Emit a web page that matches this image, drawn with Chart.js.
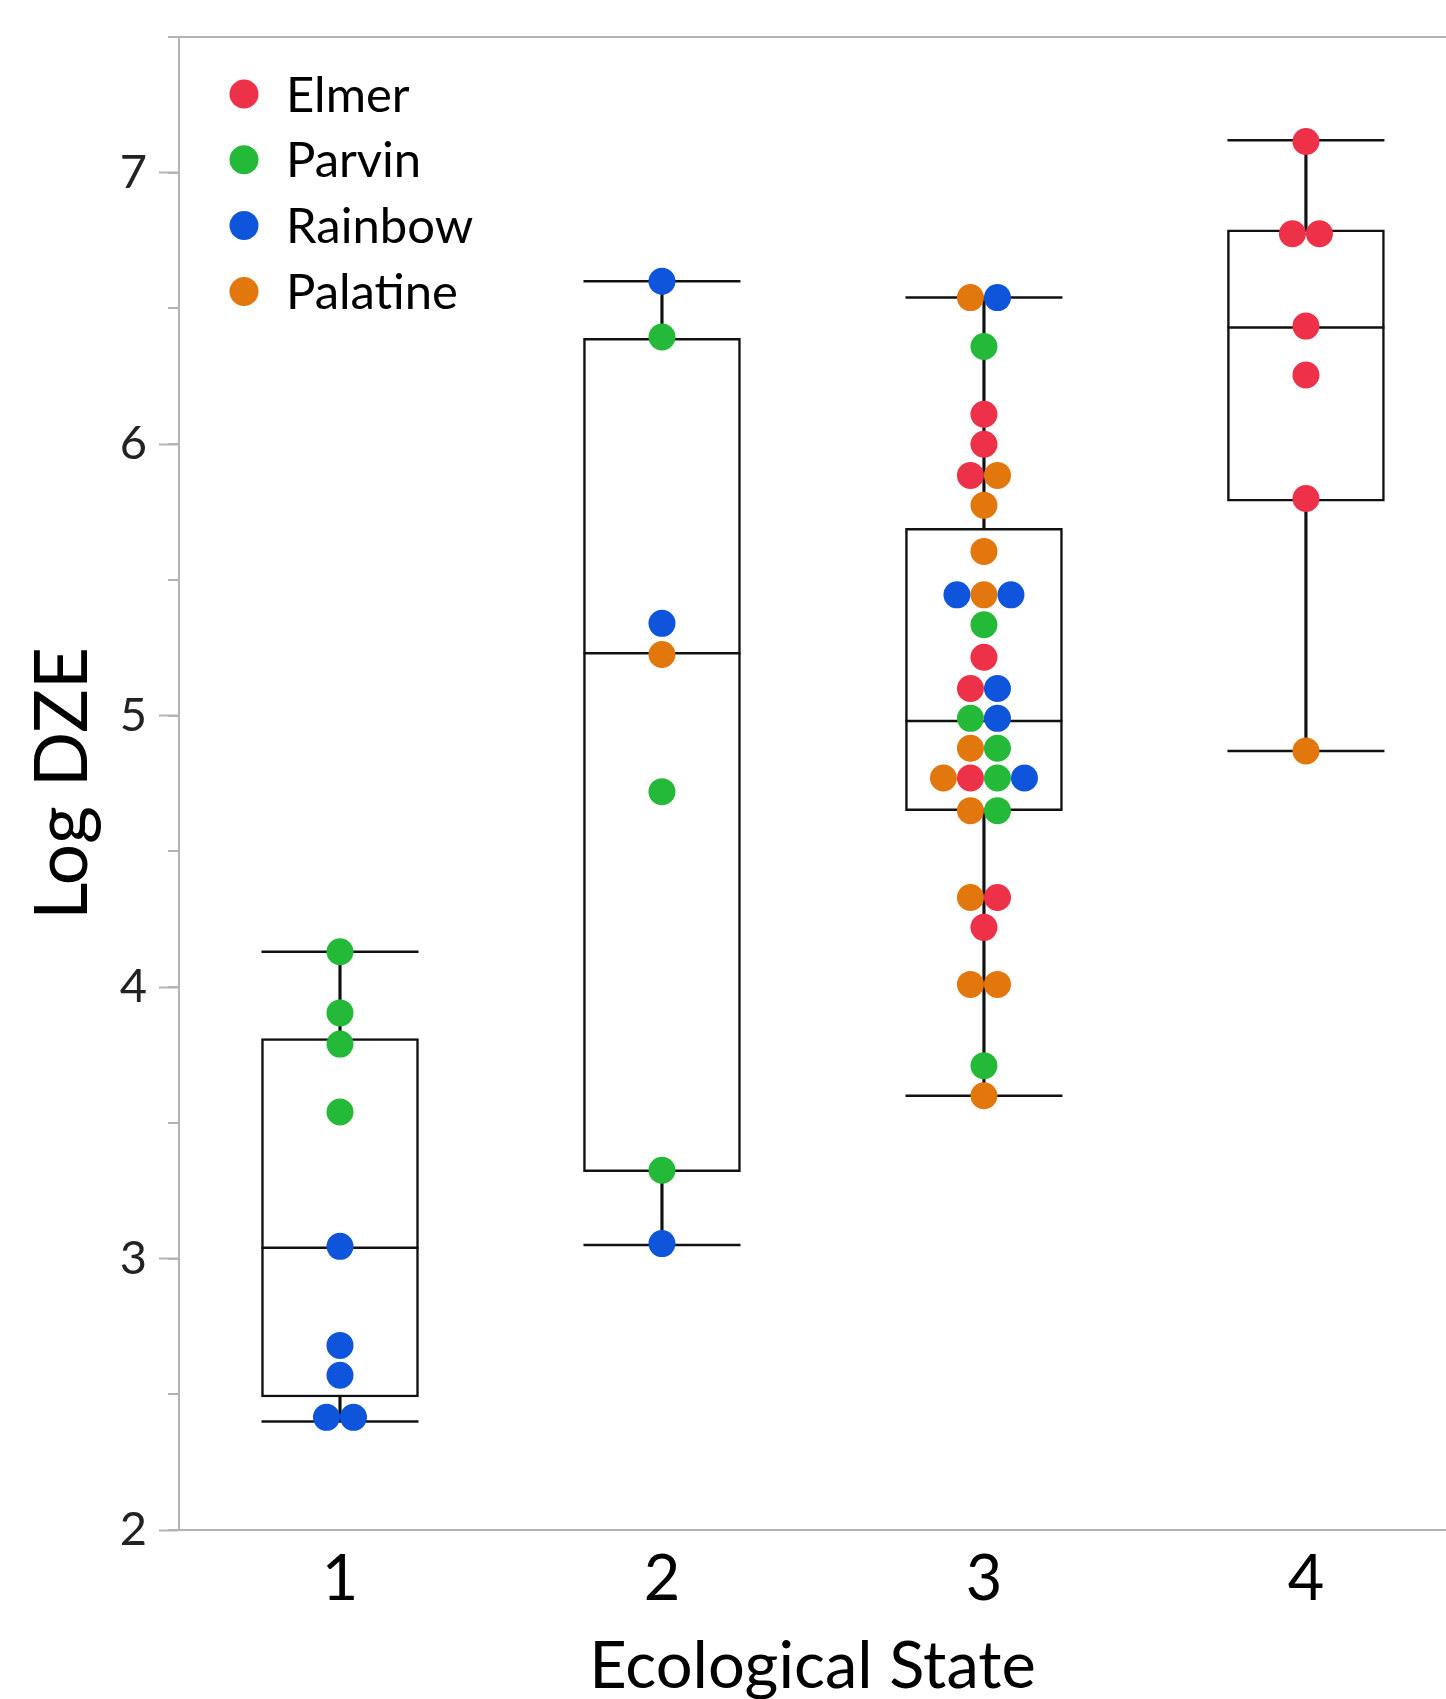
<!DOCTYPE html>
<html>
<head>
<meta charset="utf-8">
<script src="https://cdn.jsdelivr.net/npm/chart.js@4.4.1/dist/chart.umd.min.js"></script>
<style>
html,body{margin:0;padding:0;background:#fff;overflow:hidden}
#wrap{width:1446px;height:1699px;position:relative}
</style>
</head>
<body>
<div id="wrap"><canvas id="c"></canvas></div>
<script>
// ---------- data ----------
const states = [1, 2, 3, 4];
const stateLabels = ['1', '2', '3', '4'];
const sites = ['Elmer', 'Parvin', 'Rainbow', 'Palatine'];
const siteColors = ['#EC3148', '#25B93A', '#0F55DB', '#E2770E'];

const whiskerLow  = [2.40, 3.05, 3.60, 4.87];
const boxQ1       = [2.49, 3.32, 4.65, 5.79];
const boxMedian   = [3.04, 5.23, 4.98, 6.43];
const boxQ3       = [3.81, 6.39, 5.69, 6.79];
const whiskerHigh = [4.13, 6.60, 6.54, 7.12];

const yMin = 2, yMax = 7.5, yMajorStep = 1, yMinorStep = 0.5;

// observations per state, listed left-to-right within equal-value rows
const state1Points = [
  ['Parvin', 4.13], ['Parvin', 3.905], ['Parvin', 3.79], ['Parvin', 3.54],
  ['Rainbow', 3.045], ['Rainbow', 2.68], ['Rainbow', 2.57],
  ['Rainbow', 2.415], ['Rainbow', 2.415]
];
const state2Points = [
  ['Rainbow', 6.60], ['Parvin', 6.395], ['Rainbow', 5.34], ['Palatine', 5.225],
  ['Parvin', 4.72], ['Parvin', 3.325], ['Rainbow', 3.055]
];
const state3Points = [
  ['Palatine', 6.54], ['Rainbow', 6.54],
  ['Parvin', 6.36],
  ['Elmer', 6.11],
  ['Elmer', 6.00],
  ['Elmer', 5.885], ['Palatine', 5.885],
  ['Palatine', 5.775],
  ['Palatine', 5.605],
  ['Rainbow', 5.445], ['Palatine', 5.445], ['Rainbow', 5.445],
  ['Parvin', 5.335],
  ['Elmer', 5.215],
  ['Elmer', 5.10], ['Rainbow', 5.10],
  ['Parvin', 4.99], ['Rainbow', 4.99],
  ['Palatine', 4.88], ['Parvin', 4.88],
  ['Palatine', 4.77], ['Elmer', 4.77], ['Parvin', 4.77], ['Rainbow', 4.77],
  ['Palatine', 4.65], ['Parvin', 4.65],
  ['Palatine', 4.33], ['Elmer', 4.33],
  ['Elmer', 4.22],
  ['Palatine', 4.01], ['Palatine', 4.01],
  ['Parvin', 3.71],
  ['Palatine', 3.60]
];
const state4Points = [
  ['Elmer', 7.115], ['Elmer', 6.775], ['Elmer', 6.775], ['Elmer', 6.435],
  ['Elmer', 6.255], ['Elmer', 5.80], ['Palatine', 4.87]
];
const statePoints = [state1Points, state2Points, state3Points, state4Points];

// ---------- swarm layout (dots sharing a value sit side by side) ----------
const SWARM_STEP = 0.0839; // one dot width in x units
function swarm(state, pts) {
  const rows = [];
  pts.forEach(([site, v]) => {
    let r = rows.find(r => Math.abs(r.v - v) < 1e-9);
    if (!r) { r = {v: v, items: []}; rows.push(r); }
    r.items.push(site);
  });
  const out = [];
  rows.forEach(r => {
    const n = r.items.length;
    r.items.forEach((site, i) => out.push({site: site, x: state + (i - (n - 1) / 2) * SWARM_STEP, y: r.v}));
  });
  return out;
}
const allPts = [];
states.forEach((s, i) => swarm(s, statePoints[i]).forEach(p => allPts.push(p)));

// ---------- datasets ----------
const siteDatasets = sites.map((name, i) => ({
  type: 'scatter',
  label: name,
  data: allPts.filter(p => p.site === name).map(p => ({x: p.x, y: p.y})),
  pointStyle: 'circle',
  pointRadius: 13.5,
  pointBorderWidth: 0,
  pointBackgroundColor: siteColors[i],
  backgroundColor: siteColors[i],
  borderColor: siteColors[i],
  order: 0
}));

const lineMarks = [];
states.forEach((s, i) => {
  lineMarks.push({x: s, y: whiskerLow[i]});
  lineMarks.push({x: s, y: whiskerHigh[i]});
  lineMarks.push({x: s, y: boxMedian[i]});
});

const datasets = [
  ...siteDatasets,
  {
    type: 'scatter', label: 'caps', data: lineMarks,
    pointStyle: 'line', pointRadius: 78.5, pointBorderWidth: 2.5,
    pointBorderColor: '#111', borderColor: '#111', order: 1
  },
  {
    type: 'bar', label: 'box',
    data: states.map((s, i) => ({x: s, y: [boxQ1[i], boxQ3[i]]})),
    backgroundColor: '#ffffff', borderColor: '#111', borderWidth: 2.5,
    borderSkipped: false, barThickness: 157, grouped: false, order: 2
  },
  {
    type: 'bar', label: 'whisker',
    data: states.map((s, i) => ({x: s, y: [whiskerLow[i], whiskerHigh[i]]})),
    backgroundColor: '#111', borderWidth: 0,
    barThickness: 2.5, grouped: false, order: 3
  }
];

// ---------- legend drawn on the chart area ----------
const siteLegend = {
  id: 'siteLegend',
  afterDraw(chart) {
    const {ctx, chartArea} = chart;
    ctx.save();
    ctx.font = '49px Lato';
    ctx.textBaseline = 'alphabetic';
    ctx.textAlign = 'left';
    sites.forEach((s, i) => {
      const cy = chartArea.top + 57 + i * 65.8;
      ctx.fillStyle = siteColors[i];
      ctx.beginPath();
      ctx.arc(chartArea.left + 65, cy, 14.5, 0, Math.PI * 2);
      ctx.fill();
      ctx.fillStyle = '#000';
      ctx.fillText(s, chartArea.left + 107, cy + 17.5);
    });
    ctx.restore();
  }
};

const AXIS_GRAY = '#b3b3b3';
Chart.defaults.font.family = 'Lato';

new Chart(document.getElementById('c'), {
  type: 'scatter',
  data: {datasets: datasets},
  options: {
    responsive: true,
    maintainAspectRatio: false,
    animation: false,
    events: [],
    layout: {autoPadding: false, padding: {top: 37, left: 0, right: 0, bottom: 0}},
    plugins: {legend: {display: false}, tooltip: {enabled: false}},
    scales: {
      x: {
        type: 'linear', position: 'bottom', min: 0.5, max: 4.435, offset: false,
        afterBuildTicks: (scale) => { scale.ticks = states.map(v => ({value: v})); },
        afterFit: (scale) => { scale.height = 169; scale.paddingLeft = 0; scale.paddingRight = 0; },
        ticks: {
          callback: (v) => stateLabels[states.indexOf(v)],
          font: {size: 63, family: 'Lato'}, color: '#000', padding: 12,
          maxRotation: 0, autoSkip: false
        },
        grid: {display: true, drawOnChartArea: false, drawTicks: false},
        border: {display: true, color: AXIS_GRAY, width: 2},
        title: {
          display: true, text: 'Ecological State',
          font: {size: 65, family: 'Lato'}, color: '#000',
          padding: {top: 0, bottom: -7}
        }
      },
      y: {
        type: 'linear', position: 'left', min: yMin, max: yMax, weight: 1,
        afterFit: (scale) => { scale.width = 179; scale.paddingTop = 0; scale.paddingBottom = 0; },
        ticks: {
          stepSize: yMajorStep, includeBounds: false,
          font: {size: 47, family: 'Lato'}, color: '#222', padding: 12
        },
        grid: {display: true, drawOnChartArea: false, drawTicks: true, tickLength: 20, tickColor: AXIS_GRAY, tickWidth: 2},
        border: {display: true, color: AXIS_GRAY, width: 2},
        title: {
          display: true, text: 'Log DZE',
          font: {size: 73, family: 'Lato'}, color: '#000',
          padding: {top: 20, bottom: 0}
        }
      },
      yMinor: {
        type: 'linear', position: 'left', min: yMin, max: yMax, weight: 0,
        afterFit: (scale) => { scale.width = 0; scale.paddingTop = 0; scale.paddingBottom = 0; },
        ticks: {stepSize: yMinorStep, display: false},
        grid: {
          display: true, drawOnChartArea: true, drawTicks: true, tickLength: 11,
          tickColor: AXIS_GRAY, tickWidth: 2, lineWidth: 2,
          color: (c) => (c.tick && c.tick.value === yMax) ? AXIS_GRAY : 'rgba(0,0,0,0)'
        },
        border: {display: false}
      }
    }
  },
  plugins: [siteLegend]
});
</script>
</body>
</html>
